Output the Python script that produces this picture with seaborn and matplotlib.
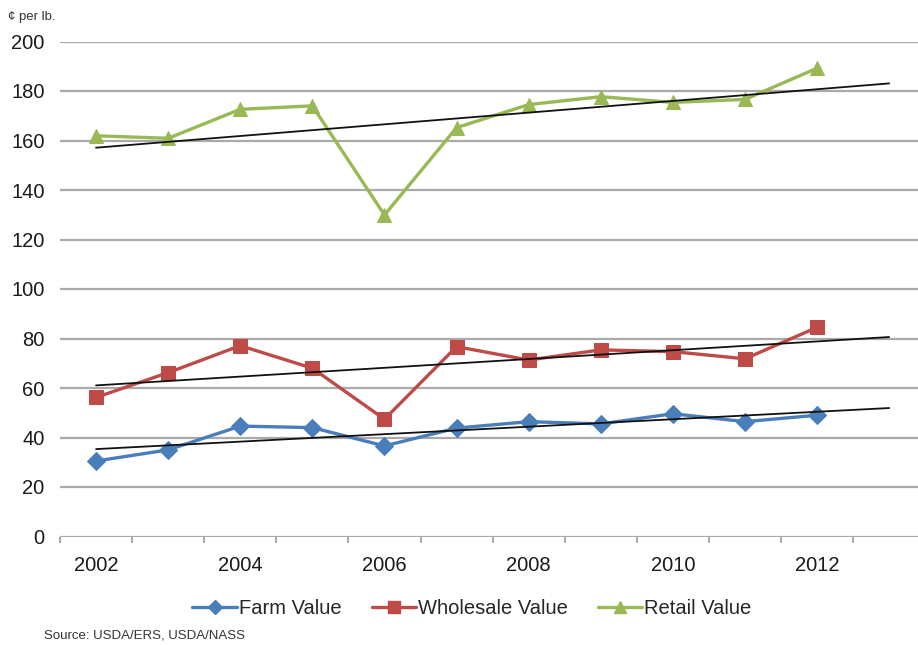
import numpy as np
import pandas as pd
import matplotlib
matplotlib.use("Agg")
import matplotlib.pyplot as plt
from matplotlib.lines import Line2D
import seaborn as sns

years = [2002, 2003, 2004, 2005, 2006, 2007, 2008, 2009, 2010, 2011, 2012]
farm_value = [30.5, 35.0, 44.6, 44.0, 36.6, 43.8, 46.4, 45.5, 49.6, 46.4, 49.0]
wholesale_value = [56.2, 66.2, 77.1, 68.0, 47.4, 76.7, 71.3, 75.4, 74.7, 71.8, 84.5]
retail_value = [161.9, 160.9, 172.6, 174.0, 129.9, 165.2, 174.5, 177.7, 175.4, 176.6, 189.2]
series_names = ["Farm Value", "Wholesale Value", "Retail Value"]
tick_years = [2002, 2004, 2006, 2008, 2010, 2012]
y_ticks = [0, 20, 40, 60, 80, 100, 120, 140, 160, 180, 200]

colors = {"Farm Value": "#4A7EBB", "Wholesale Value": "#BE4B48", "Retail Value": "#98B954"}
markers = {"Farm Value": "D", "Wholesale Value": "s", "Retail Value": "^"}
msizes = {"Farm Value": 9, "Wholesale Value": 10, "Retail Value": 10.5}

df = pd.DataFrame({
    "year": years * 3,
    "value": farm_value + wholesale_value + retail_value,
    "series": [s for s in series_names for _ in years],
})

sns.set_theme(style="white")
plt.rcParams["font.family"] = ["Liberation Sans", "DejaVu Sans"]

fig = plt.figure(figsize=(9.18, 6.45), dpi=100)
ax = fig.add_axes([60 / 918, 1 - 536.5 / 645, 1 - 60 / 918, 495 / 645])

# horizontal gridlines
for yt in y_ticks:
    ax.axhline(yt, color="#aaaaaa", lw=1.6, zorder=0)

for name in series_names:
    sub = df[df["series"] == name]
    sns.lineplot(data=sub, x="year", y="value", ax=ax, color=colors[name],
                 lw=2.4, marker=markers[name], markersize=msizes[name],
                 markeredgecolor=colors[name], legend=False, zorder=3,
                 clip_on=False)
    # linear trend extended one year forward
    k, b = np.polyfit(sub["year"], sub["value"], 1)
    tx = np.array([years[0], years[-1] + 1])
    ax.plot(tx, k * tx + b, color="#111111", lw=1.3, zorder=4)

for s in ax.spines.values():
    s.set_visible(False)

ax.set_xticks(tick_years)
ax.set_xticklabels([str(t) for t in tick_years], fontsize=14.5, color="#1a1a1a")
ax.set_xticks(np.arange(2001.5, 2014, 1.0), minor=True)
ax.tick_params(axis="x", which="major", length=0, pad=14)
ax.tick_params(axis="x", which="minor", length=4, width=1.2, color="#999999",
               direction="out", bottom=True)
ax.set_yticks(y_ticks)
ax.set_yticklabels([str(t) for t in y_ticks], fontsize=14.5, color="#1a1a1a")
ax.tick_params(axis="y", length=0, pad=11)
ax.set_xlabel("")
ax.set_ylabel("")
ax.set_xlim(2001.5, 2013.4)
ax.set_ylim(0, 200)

fig.text(8 / 918, 1 - 17 / 645, "¢ per lb.", fontsize=9.5, color="#333333",
         va="center", ha="left")
fig.text(44 / 918, 1 - 635 / 645, "Source: USDA/ERS, USDA/NASS", fontsize=9.5,
         color="#333333", va="center", ha="left")

handles = [Line2D([0], [0], color=colors[n], lw=2.4, marker=markers[n],
                  markersize=msizes[n] * 0.8, markeredgecolor=colors[n])
           for n in series_names]
fig.legend(handles, series_names, loc="center", ncol=3, frameon=False,
           bbox_to_anchor=(472 / 918, 1 - 609 / 645), fontsize=14.5,
           handlelength=2.2, handletextpad=0.1, columnspacing=1.5)

fig.savefig("out.png", dpi=100)
